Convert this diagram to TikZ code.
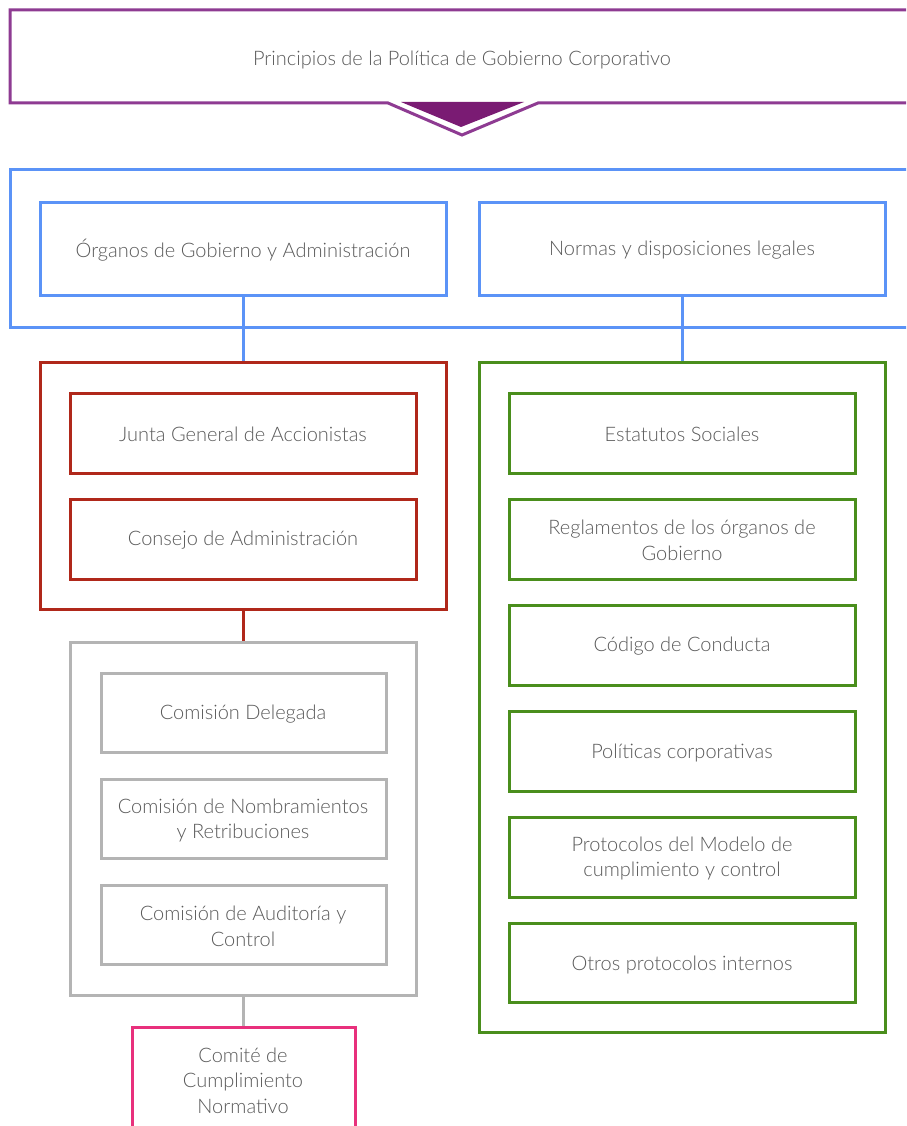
\documentclass[tikz,border=0pt]{standalone}
\usepackage{fontspec}
\setmainfont{Lato Light}
\definecolor{purpleline}{HTML}{8E3B92}
\definecolor{purplefill}{HTML}{7A1B73}
\definecolor{blueline}{HTML}{5B93F7}
\definecolor{redline}{HTML}{B0281A}
\definecolor{greenline}{HTML}{4A8E1C}
\definecolor{greyline}{HTML}{B4B4B4}
\definecolor{pinkline}{HTML}{E8307C}
\definecolor{textgrey}{HTML}{5A5A5A}
\begin{document}
\begin{tikzpicture}[x=1pt,y=-1pt,
  every node/.style={font=\fontsize{20}{25.5}\selectfont, text=textgrey, align=center, yshift=-1.5pt},
  frame/.style={draw=#1, line width=3pt, fill=white},
  link/.style={draw=#1, line width=3pt}]
\useasboundingbox (0,0) rectangle (906,1126);
\clip (0,0) rectangle (906,1126);
\fill[white] (0,0) rectangle (906,1126);

% heading band, open on the right, with a notch for the arrow
\node[anchor=center] (principios) at (462,58) {Principios de la Política de Gobierno Corporativo};
\draw[purpleline, line width=3pt] (930,10) -- (10,10) -- (10,103) -- (388,103) -- (462,135) -- (538,103) -- (930,103);
\fill[purplefill] (401,102) -- (524,102) -- (461,127) -- cycle;

% blue band with the two families
\draw[blueline, line width=3pt] (930,170) -- (10,170) -- (10,327) -- (930,327);
\draw[frame=blueline] (40,202) rectangle (446,295);
\draw[frame=blueline] (479,202) rectangle (885,295);
\node (organos) at (243,249) {Órganos de Gobierno y Administración};
\node (normas) at (682,249) {Normas y disposiciones legales};

% connectors from the blue boxes
\coordinate (orgbot) at (243,295);
\coordinate (norbot) at (682,295);
\coordinate (redtop) at (243,362);
\coordinate (greentop) at (682,362);
\draw[link=blueline] (orgbot) -- (redtop);
\draw[link=blueline] (norbot) -- (greentop);

% governing bodies
\draw[frame=redline] (40,362) rectangle (446,609);
\draw[frame=redline] (70,393) rectangle (416,473);
\draw[frame=redline] (70,499) rectangle (416,579);
\node (junta) at (243,433) {Junta General de Accionistas};
\node (consejo) at (243,539) {Consejo de Administración};

\coordinate (redbot) at (243,609);
\coordinate (greytop) at (243,642);
\draw[link=redline] (redbot) -- (greytop);

% committees
\draw[frame=greyline] (70,642) rectangle (416,995);
\draw[frame=greyline] (101,673) rectangle (386,752);
\draw[frame=greyline] (101,779) rectangle (386,858);
\draw[frame=greyline] (101,885) rectangle (386,964);
\node (delegada) at (243,713) {Comisión Delegada};
\node (nombramientos) at (243,819) {Comisión de Nombramientos\\y Retribuciones};
\node (auditoria) at (243,925) {Comisión de Auditoría y\\Control};

\coordinate (greybot) at (243,995);
\coordinate (pinktop) at (243,1027);
\draw[link=greyline] (greybot) -- (pinktop);

\draw[frame=pinkline] (132,1027) rectangle (355,1140);
\node (comite) at (243,1079) {Comité de\\Cumplimiento\\Normativo};

% rules and regulations
\draw[frame=greenline] (479,362) rectangle (885,1032);
\draw[frame=greenline] (509,393) rectangle (855,473);
\draw[frame=greenline] (509,499) rectangle (855,579);
\draw[frame=greenline] (509,605) rectangle (855,685);
\draw[frame=greenline] (509,711) rectangle (855,791);
\draw[frame=greenline] (509,817) rectangle (855,897);
\draw[frame=greenline] (509,923) rectangle (855,1002);
\node (estatutos) at (682,433) {Estatutos Sociales};
\node (reglamentos) at (682,539) {Reglamentos de los órganos de\\Gobierno};
\node (codigo) at (682,645) {Código de Conducta};
\node (politicas) at (682,751) {Políticas corporativas};
\node (protocolos) at (682,857) {Protocolos del Modelo de\\cumplimiento y control};
\node (otros) at (682,963) {Otros protocolos internos};
\end{tikzpicture}
\end{document}
